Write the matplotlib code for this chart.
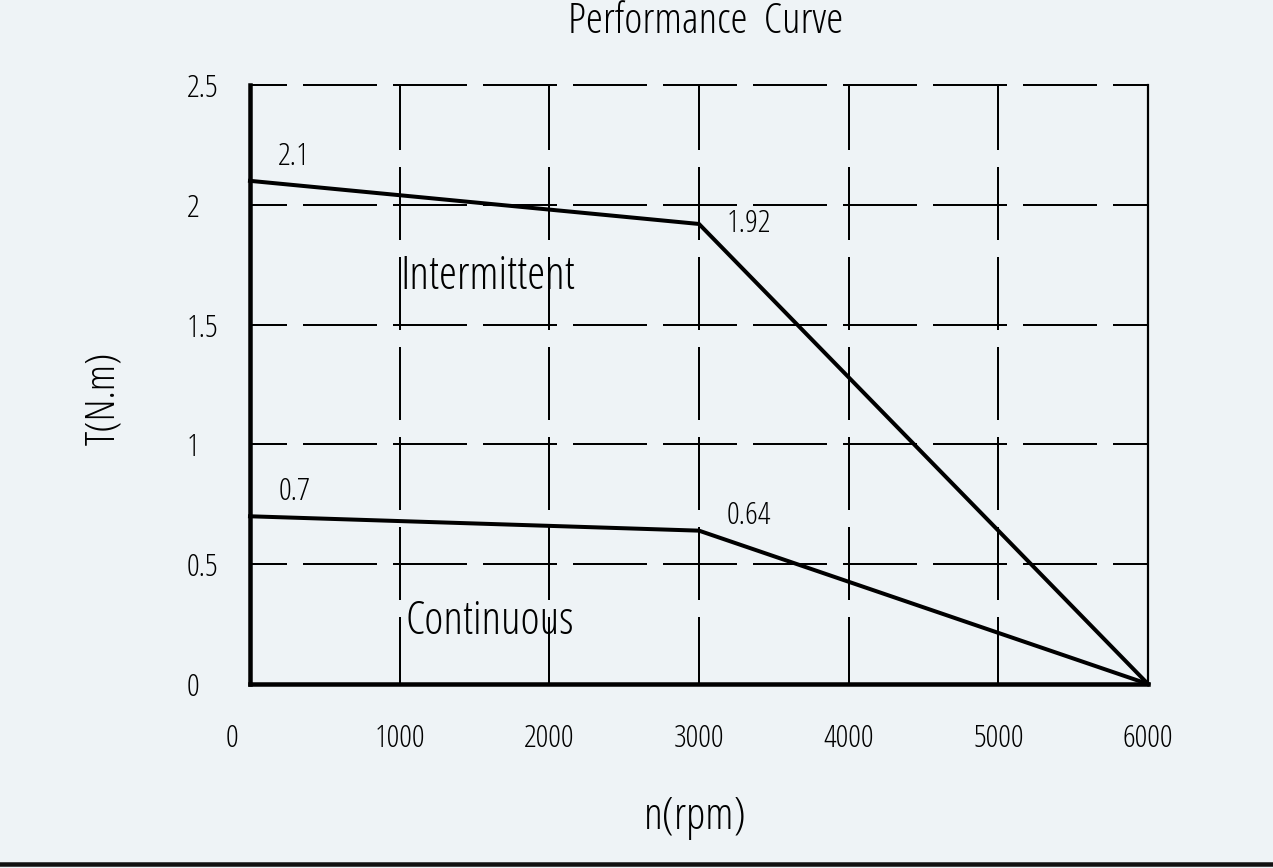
import math
import matplotlib
matplotlib.use("Agg")
import matplotlib.pyplot as plt
from matplotlib.lines import Line2D
import matplotlib.transforms as mtransforms
from matplotlib import font_manager as fm
from matplotlib.font_manager import FontProperties

plt.rcParams['lines.scale_dashes'] = False

# Data
speed = [0, 3000, 6000]
torque_intermittent = [2.1, 1.92, 0.0]
torque_continuous = [0.7, 0.64, 0.0]
x_ticks = [0, 1000, 2000, 3000, 4000, 5000, 6000]
y_ticks = [0, 0.5, 1, 1.5, 2, 2.5]
y_tick_labels = ['0', '0.5', '1', '1.5', '2', '2.5']
title = 'Performance  Curve'
x_label = 'n(rpm)'
y_label = 'T(N.m)'


# ---------- pick a narrow sans font among the installed ones ----------
def measure(fname, s):
    f = fm.get_font(fname)
    f.set_size(100, 72)
    try:
        from matplotlib.ft2font import LoadFlags
        f.set_text(s, 0.0, flags=LoadFlags.NO_HINTING)
    except Exception:
        f.set_text(s, 0.0)
    w, h = f.get_width_height()
    return w / 64.0 / 100.0, h / 64.0 / 100.0


allowed = ('Liberation Sans', 'DejaVu Sans', 'Noto Sans', 'Roboto', 'Open Sans',
           'Lato', 'Inter')
cands = []
for f in fm.fontManager.ttflist:
    n = f.name
    if not any(n.startswith(a) for a in allowed):
        continue
    if 'Mono' in n or 'Serif' in n or 'CJK' in n or 'Display' in n:
        continue
    if f.style != 'normal':
        continue
    try:
        w = int(f.weight)
    except Exception:
        w = 400
    if w < 300 or w > 400:
        continue
    try:
        dw, dh = measure(f.fname, '1000')
    except Exception:
        continue
    if dh <= 0:
        continue
    cands.append((abs(dw / dh - 51.0 / 22.0), -w, f.fname))

cands.sort()
FONT_FILE = cands[0][2] if cands else None
DIGIT_H = measure(FONT_FILE, '1000')[1] if FONT_FILE else 0.73


def fp(s, target_w, target_h, k=0.9):
    """font properties sized to match a measured width and glyph height"""
    if FONT_FILE:
        sw = measure(FONT_FILE, s)[0]
        em_h = target_h / DIGIT_H
        em_w = target_w / sw if sw > 0 else em_h
        em = em_w ** k * em_h ** (1 - k)
        p = FontProperties(fname=FONT_FILE)
    else:
        em = target_h / 0.73
        p = FontProperties(family='DejaVu Sans')
    p.set_size(em * 0.72)
    return p


bg = '#eef3f6'
W, H = 1273, 868
fig = plt.figure(figsize=(W / 100, H / 100), dpi=100, facecolor=bg)
ax = fig.add_axes([250 / W, (H - 684) / H, (1148 - 250) / W, (684 - 85) / H])
ax.set_facecolor(bg)

ax.set_xlim(0, 6000)
ax.set_ylim(0, 2.5)

# grid
px = 0.72
ax.set_xticks(x_ticks)
ax.set_yticks(y_ticks)
ax.xaxis.grid(True, color='black', linewidth=2 * px,
              linestyle=(6 * px, (73 * px, 17 * px)))
ax.yaxis.grid(True, color='black', linewidth=2 * px,
              linestyle=(37 * px, (74 * px, 16 * px)))
ax.set_axisbelow(True)
for gl in ax.get_xgridlines() + ax.get_ygridlines():
    gl.set_clip_on(False)

# spines
ax.spines['top'].set_visible(False)
ax.spines['left'].set_linewidth(4.5 * px)
ax.spines['bottom'].set_linewidth(4.5 * px)
ax.spines['right'].set_linewidth(2.2 * px)
for s in ax.spines.values():
    s.set_color('black')
    s.set_zorder(5)

# data lines
ax.plot(speed, torque_intermittent, color='black', linewidth=4 * px,
        clip_on=False, zorder=6, solid_joinstyle='miter')
ax.plot(speed, torque_continuous, color='black', linewidth=4 * px,
        clip_on=False, zorder=6, solid_joinstyle='miter')

# ticks
ax.tick_params(axis='both', length=0)
ax.tick_params(axis='x', pad=28)
ax.tick_params(axis='y', pad=45.4)
ax.set_xticklabels([str(v) for v in x_ticks])
ax.set_yticklabels(y_tick_labels)
tick_fp = fp('1000', 51, 22)
for lab in ax.get_xticklabels() + ax.get_yticklabels():
    lab.set_fontproperties(tick_fp)
for lab in ax.get_yticklabels():
    lab.set_horizontalalignment('left')
xl = ax.get_xticklabels()
xl[0].set_transform(xl[0].get_transform() +
                    mtransforms.ScaledTranslation(-18 / 100, 0, fig.dpi_scale_trans))

# annotations
num_fp = fp('2.1', 32, 23)
ax.text(speed[0] + 187, torque_intermittent[0] + 0.10, '2.1', fontproperties=num_fp,
        ha='left', va='center')
ax.text(speed[1] + 187, torque_intermittent[1], '1.92', fontproperties=num_fp,
        ha='left', va='center')
ax.text(speed[0] + 194, torque_continuous[0] + 0.10, '0.7', fontproperties=num_fp,
        ha='left', va='center')
ax.text(speed[1] + 187, torque_continuous[1] + 0.06, '0.64', fontproperties=num_fp,
        ha='left', va='center')
ax.text(1002, 1.70, 'Intermittent', fontproperties=fp('Intermittent', 178, 29),
        ha='left', va='center')
ax.text(1036, 0.26, 'Continuous', fontproperties=fp('Continuous', 171, 29),
        ha='left', va='center')

# titles / labels
fig.text(706 / W, 1 - 22 / H, title, fontproperties=fp(title, 303, 24, 0.75),
         ha='center', va='center')
fig.text(695 / W, 1 - 817 / H, x_label, fontproperties=fp(x_label, 104, 30),
         ha='center', va='center')
fig.text(104 / W, 1 - 398 / H, y_label, fontproperties=fp(y_label, 93, 31),
         ha='center', va='center', rotation=90)

# bottom rule
fig.add_artist(Line2D([0, 1], [(H - 864) / H, (H - 864) / H],
                      transform=fig.transFigure, color='#111111',
                      linewidth=4.5 * px))

fig.savefig('out.png', dpi=100, facecolor=bg)
